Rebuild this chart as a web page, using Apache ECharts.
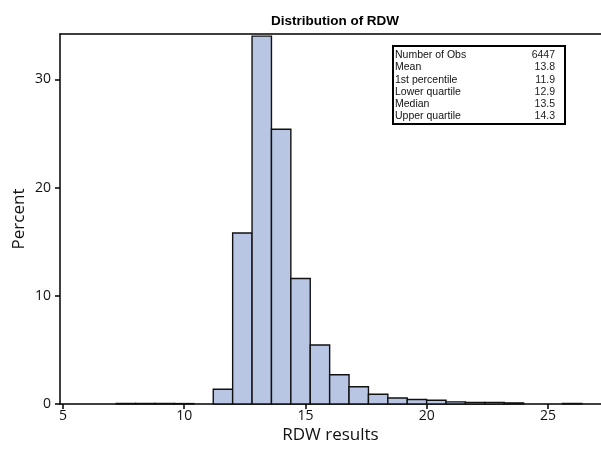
<!DOCTYPE html>
<html>
<head>
<meta charset="utf-8">
<script src="https://cdn.jsdelivr.net/npm/echarts@6/dist/echarts.min.js"></script>
<style>
html,body{margin:0;padding:0;background:#fff;}
#chart{width:601px;height:454px;}
</style>
</head>
<body>
<div id="chart"></div>
<script>
// Histogram bins (centres, width 0.8) and percent heights
const binWidth = 0.8;
const binCenters = [7.6, 8.4, 9.2, 10.0, 11.6, 12.4, 13.2, 14.0, 14.8, 15.6, 16.4, 17.2, 18.0, 18.8, 19.6, 20.4, 21.2, 22.0, 22.8, 23.6, 26.0];
const percents   = [0.05, 0.05, 0.05, 0.04, 1.36, 15.8, 34.0, 25.4, 11.6, 5.45, 2.7, 1.6, 0.9, 0.55, 0.42, 0.35, 0.2, 0.15, 0.15, 0.1, 0.05];
const xTicks = [5, 10, 15, 20, 25];
const yTicks = [0, 10, 20, 30];
const statLabels = ['Number of Obs', 'Mean', '1st percentile', 'Lower quartile', 'Median', 'Upper quartile'];
const statValues = ['6447', '13.8', '11.9', '12.9', '13.5', '14.3'];

const data = binCenters.map((c, i) => [c, percents[i]]);
const axisFont = '"Open Sans", "Noto Sans", sans-serif';

const chart = echarts.init(document.getElementById('chart'), null, {renderer: 'canvas'});

const statsChildren = [{
  type: 'rect',
  shape: {x: 0, y: 0, width: 172, height: 78},
  style: {fill: '#fff', stroke: '#000', lineWidth: 2}
}];
statLabels.forEach((s, i) => {
  statsChildren.push({type: 'text', x: 2, y: 9.5 + i * 12.1,
    style: {text: s, font: '10.5px "Liberation Sans", Arial, sans-serif', fill: '#111', verticalAlign: 'middle', align: 'left'}});
  statsChildren.push({type: 'text', x: 162, y: 9.5 + i * 12.1,
    style: {text: statValues[i], font: '10.5px "Liberation Sans", Arial, sans-serif', fill: '#222', verticalAlign: 'middle', align: 'right'}});
});

chart.setOption({
  backgroundColor: '#fff',
  animation: false,
  title: {
    text: 'Distribution of RDW',
    left: 330, top: 9, textAlign: 'center',
    textStyle: {fontFamily: '"Liberation Sans", Arial, sans-serif', fontWeight: 'bold', fontSize: 13.5, color: '#000'}
  },
  grid: {left: 60, right: 0, top: 34, bottom: 50},
  xAxis: [{
    type: 'value',
    min: 4.88, max: 27.19,
    position: 'bottom',
    name: 'RDW results', nameLocation: 'middle', nameGap: 23, nameMoveOverlap: false,
    nameTextStyle: {fontFamily: axisFont, fontSize: 17, color: '#111'},
    axisLine: {show: true, onZero: false, lineStyle: {color: '#000', width: 1.5}},
    axisTick: {show: true, length: 5, customValues: xTicks, lineStyle: {color: '#000', width: 1.5}},
    axisLabel: {customValues: xTicks, fontFamily: axisFont, fontSize: 14, color: '#111', margin: 5},
    splitLine: {show: false}
  }, {
    type: 'value',
    min: 4.88, max: 27.19,
    position: 'top',
    axisLine: {show: true, onZero: false, lineStyle: {color: '#000', width: 1.5}},
    axisTick: {show: false}, axisLabel: {show: false}, splitLine: {show: false}
  }],
  yAxis: {
    type: 'value',
    min: 0, max: 34.2,
    name: 'Percent', nameLocation: 'middle', nameGap: 32, nameMoveOverlap: false,
    nameTextStyle: {fontFamily: axisFont, fontSize: 17, color: '#111'},
    axisLine: {show: true, onZero: false, lineStyle: {color: '#000', width: 1.5}},
    axisTick: {show: true, length: 5, customValues: yTicks, lineStyle: {color: '#000', width: 1.5}},
    axisLabel: {customValues: yTicks, fontFamily: axisFont, fontSize: 14, color: '#111', margin: 9},
    splitLine: {show: false}
  },
  series: [{
    type: 'custom',
    xAxisIndex: 0,
    data: data,
    renderItem: function (params, api) {
      const c = api.value(0), v = api.value(1);
      const p0 = api.coord([c - binWidth / 2, v]);
      const p1 = api.coord([c + binWidth / 2, 0]);
      return {
        type: 'rect',
        shape: {x: p0[0], y: p0[1], width: p1[0] - p0[0], height: p1[1] - p0[1]},
        style: {fill: '#b8c6e4', stroke: '#111', lineWidth: 1.4}
      };
    }
  }],
  graphic: [{
    type: 'group', x: 393, y: 46,
    children: statsChildren
  }]
});
</script>
</body>
</html>
